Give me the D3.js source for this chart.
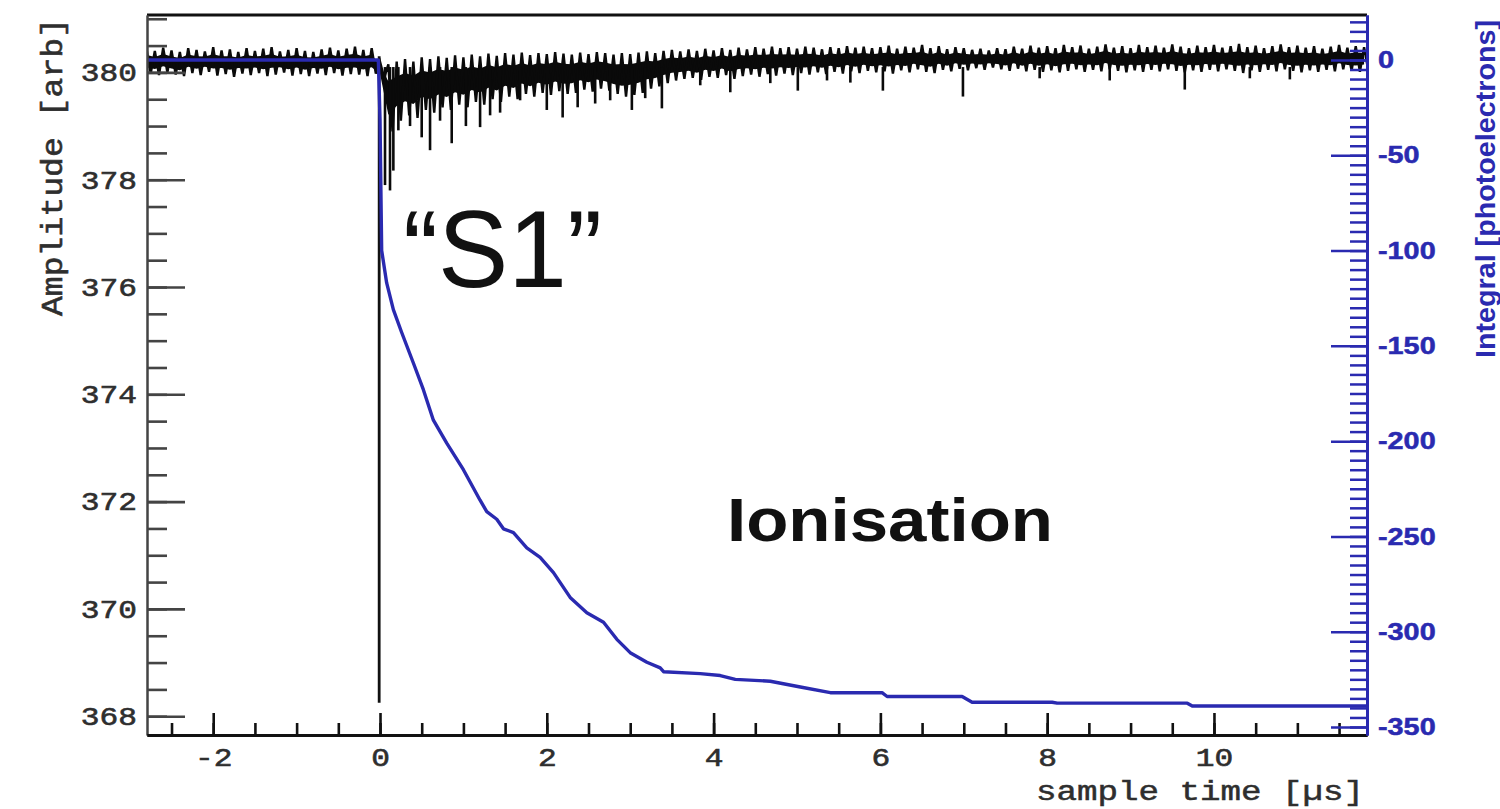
<!DOCTYPE html>
<html><head><meta charset="utf-8">
<script src="https://cdn.jsdelivr.net/npm/d3@7"></script>
<style>body{margin:0;background:#fff}svg{display:block}</style>
</head><body><svg id="c" width="1500" height="809"></svg>
<script>
// ---------- data ----------
const bandStart = -2.8, bandStep = 0.1;   // sample bins of the black waveform envelope [µs]
const bandHigh = [
 380.44,380.40,380.46,380.41,380.38,380.45,380.42,380.39,380.47,380.41,380.43,380.38,380.45,380.40,380.44,380.47,380.39,380.42,380.45,380.40,380.38,380.43,380.46,380.41,380.44,380.48,380.42,380.45,
 380.20,380.15,380.20,380.25,380.20,380.28,380.25,380.30,380.27,380.32,
 380.28,380.33,380.30,380.35,380.31,380.36,380.33,380.37,380.32,380.36,
 380.34,380.38,380.35,380.33,380.37,380.34,380.38,380.36,380.33,380.36,
 380.34,380.37,380.39,380.36,380.40,380.42,380.39,380.43,380.40,380.44,
 380.41,380.45,380.42,380.46,380.43,380.47,380.44,380.48,380.45,380.47,
 380.44,380.48,380.46,380.43,380.47,380.45,380.49,380.46,380.48,380.45,
 380.47,380.50,380.44,380.48,380.46,380.51,380.45,380.49,380.43,380.47,
 380.45,380.42,380.44,380.41,380.45,380.43,380.48,380.44,380.50,380.46,
 380.49,380.45,380.51,380.47,380.50,380.44,380.48,380.52,380.46,380.49,
 380.45,380.51,380.47,380.50,380.46,380.52,380.48,380.45,380.50,380.47,
 380.51,380.46,380.49,380.53,380.47,380.50,380.45,380.49,380.52,380.47,
 380.50,380.46,380.49,380.44,380.48,380.51,380.46,380.49,380.47
];
const bandLow = [
 379.98,379.95,380.00,379.96,379.93,379.99,379.95,380.01,379.94,379.97,379.92,379.98,379.95,379.99,379.93,379.96,380.00,379.94,379.97,379.93,379.98,379.95,379.99,379.94,379.97,379.96,379.93,379.98,
 379.90,378.90,379.10,379.20,379.15,379.30,379.25,379.35,379.30,379.40,
 379.35,379.45,379.40,379.50,379.45,379.55,379.50,379.60,379.55,379.62,
 379.58,379.65,379.60,379.62,379.68,379.64,379.70,379.66,379.60,379.55,
 379.58,379.62,379.70,379.74,379.80,379.85,379.88,379.90,379.86,379.92,
 379.90,379.95,379.88,379.93,379.96,379.92,379.97,379.94,379.98,379.95,
 379.99,379.96,380.00,379.97,380.01,379.98,380.02,379.99,380.03,380.00,
 380.02,379.98,380.04,380.00,380.06,380.01,379.99,380.05,380.02,380.07,
 380.04,380.08,380.05,380.09,380.06,380.03,380.07,380.02,380.05,380.01,
 380.04,380.00,380.03,380.06,380.01,380.05,380.02,380.06,380.03,380.00,
 380.04,380.01,380.05,380.02,380.06,380.03,380.00,380.04,380.01,380.05,
 380.02,380.06,380.03,379.99,380.04,380.01,380.05,380.02,380.06,380.03,
 380.00,380.04,380.01,380.05,380.02,380.06,380.03,380.01,380.04
];
// single-photoelectron spikes: time [µs] and minimum amplitude
const spikeTime = [0.06,0.12,0.16,0.22,0.36,0.50,0.60,0.72,0.86,1.03,1.20,1.32,1.44,1.68,2.00,2.19,2.37,2.58,2.76,3.02,3.18,3.38,3.84,4.20,4.68,5.01,5.36,5.64,6.03,6.99,7.91,8.75,9.65,10.43,10.91];
const spikeMin  = [377.9,377.8,378.17,378.92,379.0,378.79,378.55,379.1,378.68,379.0,378.98,379.2,379.25,379.48,379.3,379.16,379.35,379.42,379.48,379.3,379.52,379.33,379.76,379.63,379.8,379.66,379.85,379.81,379.66,379.55,379.89,379.85,379.68,379.89,379.87];
// the S1 pulse
const s1Time = -0.01, s1Top = 380.3, s1Min = 368.25;
// integral (photoelectrons)
const integralTime  = [-2.79,-0.02,0.0,0.012,0.02,0.08,0.16,0.26,0.40,0.52,0.64,0.80,1.00,1.20,1.28,1.40,1.48,1.60,1.76,1.92,2.08,2.28,2.48,2.68,2.84,3.00,3.20,3.36,3.40,3.84,4.08,4.26,4.68,5.04,5.40,6.02,6.08,6.98,7.10,8.06,8.12,9.68,9.74,11.83];
const integralValue = [0,0,-31,-73,-100,-117,-131,-143,-159,-173,-189,-201,-215,-231,-237,-241,-246,-248,-256,-261,-269,-282,-290,-295,-304,-311,-316,-319,-321,-322,-323,-325,-326,-329,-332,-332,-334,-334,-337,-337,-337.5,-337.5,-339,-339];
// ticks and labels
const timeTicks = [-2,0,2,4,6,8,10];
const ampTicks = [368,370,372,374,376,378,380];
const intTicks = [0,-50,-100,-150,-200,-250,-300,-350];
const xTitle = "sample time [\u00b5s]";
const yTitle = "Amplitude [arb]";
const y2Title = "Integral [photoelectrons]";
const notes = ["\u201cS1\u201d", "Ionisation"];

// ---------- drawing ----------
const L = 147, R = 1367, T = 15, B = 735;
const BLUE = "#2a2ab0";
const STRETCH = 1.2;   // the original picture is widened horizontally
const svg = d3.select("#c");
const x = d3.scaleLinear().domain([-2.794, 11.835]).range([L, R]);
const yA = d3.scaleLinear().domain([367.65, 381.07]).range([B, T]);
const yI = d3.scaleLinear().domain([-354.2, 23.6]).range([B, T]);

function widen(sel, f){
  sel.each(function(){
    const w = this.getComputedTextLength();
    d3.select(this).attr("textLength", w*f).attr("lengthAdjust","spacingAndGlyphs");
  });
}

svg.append("defs").append("clipPath").attr("id","clip")
  .append("rect").attr("x",L).attr("y",T).attr("width",R-L).attr("height",B-T);
const plot = svg.append("g").attr("clip-path","url(#clip)");

const band = bandHigh.map((h,i)=>({t: bandStart + i*bandStep, hi: h, lo: bandLow[i]}));
// dense core of the noise band
plot.append("path").datum(band)
  .attr("d", d3.area().x(d=>x(d.t))
     .y0(d=>yA(d.lo + 0.25*(d.hi-d.lo))).y1(d=>yA(d.hi - 0.25*(d.hi-d.lo))))
  .attr("fill","#0a0a0a");
// ragged noise: min/max of each bin
const zig = [];
band.forEach(d=>{ zig.push({t:d.t, v:d.hi}); zig.push({t:d.t + bandStep/2, v:d.lo}); });
plot.append("path").datum(zig)
  .attr("d", d3.line().x(d=>x(d.t)).y(d=>yA(d.v)))
  .attr("fill","none").attr("stroke","#0a0a0a").attr("stroke-width",2.4).attr("stroke-linejoin","miter");

plot.selectAll("line.spike").data(spikeTime.map((t,i)=>({t, v: spikeMin[i]})))
  .join("line").attr("class","spike")
  .attr("x1",d=>x(d.t)).attr("x2",d=>x(d.t))
  .attr("y1",yA(380.1)).attr("y2",d=>yA(d.v))
  .attr("stroke","#0a0a0a").attr("stroke-width",2.6);

plot.append("line")
  .attr("x1",x(s1Time)).attr("x2",x(s1Time))
  .attr("y1",yA(s1Top)).attr("y2",yA(s1Min))
  .attr("stroke","#111").attr("stroke-width",2.8);

plot.append("path").datum(integralTime.map((t,i)=>({t, v: integralValue[i]})))
  .attr("d", d3.line().x(d=>x(d.t)).y(d=>yI(d.v)))
  .attr("fill","none").attr("stroke",BLUE).attr("stroke-width",3.4).attr("stroke-linejoin","round");

// frame top
svg.append("line").attr("x1",L).attr("x2",R).attr("y1",T).attr("y2",T)
  .attr("stroke","#111").attr("stroke-width",3);

function styleAxis(g, color, domW, tickW){
  g.select(".domain").attr("stroke",color).attr("stroke-width",domW);
  g.selectAll(".tick line").attr("stroke",color).attr("stroke-width",tickW);
}
const fmt = d => String(d);

// left axis
const gLm = svg.append("g").attr("transform",`translate(${L},0)`)
  .call(d3.axisLeft(yA).tickValues(d3.range(368,381.01,0.5)).tickSizeInner(-20).tickSizeOuter(0).tickFormat(""));
styleAxis(gLm,"#444",2,2.6);
const gL = svg.append("g").attr("transform",`translate(${L},0)`)
  .call(d3.axisLeft(yA).tickValues(ampTicks).tickSizeInner(-38).tickSizeOuter(0).tickPadding(10).tickFormat(fmt));
styleAxis(gL,"#444",2,2.6);
gL.selectAll("text").attr("font-family","'Liberation Mono', monospace").attr("font-size",26)
  .attr("fill","#2e2e2e").attr("stroke","#2e2e2e").attr("stroke-width",0.6);
widen(gL.selectAll("text"), STRETCH);

// bottom axis
const gBm = svg.append("g").attr("transform",`translate(0,${B})`)
  .call(d3.axisBottom(x).tickValues(d3.range(-2.5,11.81,0.5)).tickSizeInner(-12).tickSizeOuter(0).tickFormat(""));
styleAxis(gBm,"#111",3.2,2.6);
const gB = svg.append("g").attr("transform",`translate(0,${B})`)
  .call(d3.axisBottom(x).tickValues(timeTicks).tickSizeInner(-22).tickSizeOuter(0).tickPadding(13).tickFormat(fmt));
styleAxis(gB,"#111",3.2,2.6);
gB.selectAll("text").attr("font-family","'Liberation Mono', monospace").attr("font-size",26)
  .attr("fill","#2e2e2e").attr("stroke","#2e2e2e").attr("stroke-width",0.6);
widen(gB.selectAll("text"), STRETCH);

// right axis (integral)
const gRm = svg.append("g").attr("transform",`translate(${R},0)`)
  .call(d3.axisRight(yI).tickValues(d3.range(-350,21,5)).tickSizeInner(-17).tickSizeOuter(0).tickFormat(""));
styleAxis(gRm,BLUE,3,2.5);
const gR = svg.append("g").attr("transform",`translate(${R},0)`)
  .call(d3.axisRight(yI).tickValues(intTicks).tickSizeInner(-36).tickSizeOuter(0).tickPadding(11).tickFormat(fmt));
styleAxis(gR,BLUE,3,2.5);
gR.selectAll("text").attr("font-family","'Liberation Sans', Arial, sans-serif").attr("font-weight","bold")
  .attr("font-size",24).attr("fill",BLUE).attr("stroke",BLUE).attr("stroke-width",0.5);
widen(gR.selectAll("text"), STRETCH);

// axis titles
svg.append("text").text(xTitle)
  .attr("x",1036).attr("y",800).attr("textLength",328).attr("lengthAdjust","spacingAndGlyphs")
  .attr("font-family","'Liberation Mono', monospace").attr("font-size",27)
  .attr("fill","#2e2e2e").attr("stroke","#2e2e2e").attr("stroke-width",0.5);
svg.append("text").text(yTitle)
  .attr("transform","translate(62,316) rotate(-90)").attr("textLength",298).attr("lengthAdjust","spacingAndGlyphs")
  .attr("font-family","'Liberation Mono', monospace").attr("font-size",30)
  .attr("fill","#2e2e2e").attr("stroke","#2e2e2e").attr("stroke-width",0.6);
svg.append("text").text(y2Title)
  .attr("transform","translate(1495,358) rotate(-90)").attr("textLength",338).attr("lengthAdjust","spacingAndGlyphs")
  .attr("font-family","'Liberation Sans', Arial, sans-serif").attr("font-weight","bold").attr("font-size",28).attr("fill",BLUE);

// annotations
svg.append("text").text(notes[0])
  .attr("x",403).attr("y",287).attr("textLength",199).attr("lengthAdjust","spacingAndGlyphs")
  .attr("font-family","'Liberation Sans', Arial, sans-serif").attr("font-size",110).attr("fill","#111");
svg.append("text").text(notes[1])
  .attr("x",727).attr("y",541).attr("textLength",326).attr("lengthAdjust","spacingAndGlyphs")
  .attr("font-family","'Liberation Sans', Arial, sans-serif").attr("font-weight","bold").attr("font-size",62).attr("fill","#111");
</script></body></html>
